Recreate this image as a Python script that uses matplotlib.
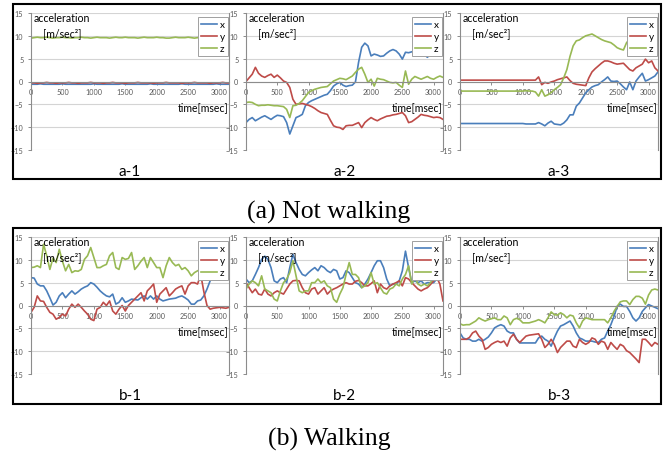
import numpy as np
import matplotlib.pyplot as plt
from matplotlib.patches import Rectangle

plt.rcParams['font.family'] = ['Lato', 'DejaVu Sans']

# time axis [msec], one sample every 50 msec
t = np.arange(0, 3151, 50)

# ---- (a) Not walking ----
a1_x = [-0.6, -0.6, -0.6, -0.5, -0.6, -0.6, -0.6, -0.6,
        -0.6, -0.6, -0.5, -0.6, -0.6, -0.6, -0.6, -0.6,
        -0.6, -0.6, -0.6, -0.6, -0.5, -0.6, -0.6, -0.6,
        -0.6, -0.6, -0.6, -0.6, -0.6, -0.5, -0.6, -0.6,
        -0.6, -0.6, -0.6, -0.6, -0.6, -0.6, -0.5, -0.6,
        -0.6, -0.6, -0.6, -0.6, -0.6, -0.6, -0.6, -0.6,
        -0.5, -0.6, -0.6, -0.6, -0.6, -0.6, -0.6, -0.6,
        -0.6, -0.6, -0.6, -0.5, -0.6, -0.6, -0.6, -0.6]
a1_y = [-0.3, -0.3, -0.4, -0.3, -0.3, -0.2, -0.3, -0.3,
        -0.4, -0.3, -0.3, -0.3, -0.2, -0.3, -0.3, -0.4,
        -0.3, -0.3, -0.3, -0.2, -0.3, -0.3, -0.3, -0.4,
        -0.3, -0.3, -0.2, -0.3, -0.3, -0.3, -0.4, -0.3,
        -0.3, -0.3, -0.2, -0.3, -0.3, -0.3, -0.3, -0.4,
        -0.3, -0.3, -0.3, -0.2, -0.3, -0.3, -0.3, -0.3,
        -0.4, -0.3, -0.3, -0.3, -0.2, -0.3, -0.3, -0.3,
        -0.3, -0.4, -0.3, -0.3, -0.3, -0.2, -0.3, -0.3]
a1_z = [9.5, 9.6, 9.7, 9.6, 9.6, 9.7, 9.6, 9.5,
        9.6, 9.6, 9.7, 9.6, 9.6, 9.5, 9.6, 9.6,
        9.7, 9.6, 9.6, 9.5, 9.6, 9.7, 9.6, 9.6,
        9.6, 9.5, 9.6, 9.7, 9.6, 9.6, 9.7, 9.6,
        9.6, 9.6, 9.5, 9.6, 9.7, 9.6, 9.6, 9.6,
        9.7, 9.6, 9.6, 9.5, 9.5, 9.6, 9.7, 9.6,
        9.6, 9.6, 9.7, 9.6, 9.5, 9.6, 9.6, 9.7,
        9.6, 9.6, 9.5, 9.6, 9.6, 9.7, 9.6, 9.6]

a2_x = [-9.0, -8.3, -7.9, -8.6, -8.2, -7.8, -7.5, -7.9,
        -8.3, -7.8, -7.4, -7.5, -7.7, -9.0, -11.5, -9.7,
        -7.9, -7.6, -7.2, -5.3, -4.6, -4.2, -3.9, -3.6,
        -3.3, -3.0, -2.8, -2.0, -1.0, -0.5, -0.2, -0.8,
        -1.1, -0.9, -0.8, -0.1, 4.2, 7.5, 8.4, 7.8,
        5.6, 6.0, 5.8, 5.5, 5.6, 6.2, 6.7, 7.0,
        6.7, 6.0, 4.9, 6.4, 6.3, 6.5, 6.7, 6.5,
        6.4, 6.0, 5.3, 6.0, 6.4, 6.0, 5.6, 5.8]
a2_y = [0.0, 0.8, 1.6, 3.1, 1.8, 1.2, 0.9, 1.3,
        1.6, 0.9, 1.4, 0.8, 0.1, -0.2, -1.3, -3.9,
        -5.0, -4.9, -4.8, -5.0, -5.2, -5.5, -5.9, -6.4,
        -6.8, -7.0, -7.2, -8.5, -9.7, -10.0, -10.1, -10.5,
        -9.7, -9.6, -9.6, -9.3, -9.0, -10.1, -9.0, -8.4,
        -7.9, -8.3, -8.6, -8.2, -7.9, -7.6, -7.5, -7.3,
        -7.2, -7.0, -6.8, -7.5, -9.0, -8.8, -8.3, -7.8,
        -7.2, -7.4, -7.5, -7.7, -7.9, -7.8, -7.9, -8.3]
a2_z = [-4.6, -4.5, -4.6, -5.0, -5.3, -5.2, -5.2, -5.1,
        -5.2, -5.3, -5.3, -5.4, -5.5, -6.1, -7.9, -5.3,
        -5.2, -4.8, -4.2, -3.3, -2.4, -2.0, -1.7, -1.5,
        -1.3, -1.2, -1.1, -0.5, 0.1, 0.4, 0.7, 0.6,
        0.4, 0.8, 1.2, 2.0, 2.7, 3.1, 1.6, -0.2,
        0.5, -1.0, 0.7, 0.5, 0.4, 0.1, -0.2, -0.3,
        -0.2, -0.8, -1.3, 2.3, -0.6, 0.5, 1.1, 0.8,
        0.5, 0.8, 1.1, 0.7, 0.5, 0.9, 1.2, 0.9]

a3_x = [-9.2, -9.2, -9.2, -9.2, -9.2, -9.2, -9.2, -9.2,
        -9.2, -9.2, -9.2, -9.2, -9.2, -9.2, -9.2, -9.2,
        -9.2, -9.2, -9.2, -9.2, -9.2, -9.3, -9.3, -9.3,
        -9.3, -9.0, -9.3, -9.7, -9.1, -8.7, -9.3, -9.4,
        -9.5, -9.1, -8.4, -7.3, -7.3, -5.4, -4.7, -3.6,
        -2.5, -1.8, -1.2, -0.9, -0.7, -0.1, 0.4, 1.0,
        0.1, 0.0, 0.1, -0.5, -1.2, -1.8, -0.1, -1.8,
        0.1, 1.0, 1.8, 0.1, 0.4, 0.8, 1.2, 2.1]
a3_y = [0.3, 0.3, 0.3, 0.3, 0.3, 0.3, 0.3, 0.3,
        0.3, 0.3, 0.3, 0.3, 0.3, 0.3, 0.3, 0.3,
        0.3, 0.3, 0.3, 0.3, 0.3, 0.3, 0.3, 0.3,
        0.3, 1.0, -0.7, -0.2, -0.4, -0.1, 0.1, 0.4,
        0.6, 0.8, 1.0, 0.2, -0.4, -0.6, -0.7, -0.8,
        -0.9, 0.8, 2.1, 2.8, 3.4, 4.0, 4.5, 4.5,
        4.3, 4.0, 3.8, 3.9, 4.0, 3.3, 2.6, 2.3,
        3.0, 3.4, 3.8, 4.9, 4.1, 4.5, 3.0, 2.3]
a3_z = [-2.1, -2.1, -2.1, -2.1, -2.1, -2.1, -2.1, -2.1,
        -2.1, -2.1, -2.1, -2.1, -2.1, -2.1, -2.1, -2.1,
        -2.1, -2.1, -2.1, -2.1, -2.1, -2.0, -2.1, -2.1,
        -2.3, -3.2, -1.8, -3.2, -2.9, -2.4, -1.8, -1.3,
        -0.7, 0.8, 2.6, 5.5, 7.8, 8.9, 9.1, 9.6,
        10.0, 10.2, 10.4, 10.0, 9.6, 9.2, 8.9, 8.7,
        8.5, 8.0, 7.4, 7.1, 6.9, 8.5, 9.3, 9.7,
        10.0, 9.8, 9.4, 8.8, 8.2, 8.0, 8.0, 9.3]

# ---- (b) Walking ----
b1_x = [6.1, 6.0, 4.7, 4.3, 4.3, 3.2, 1.7, 0.1,
        0.7, 2.1, 2.8, 1.7, 2.5, 3.2, 2.5, 3.0,
        3.6, 4.0, 4.3, 5.0, 4.7, 4.0, 3.2, 2.6,
        2.1, 1.9, 2.5, 0.3, 0.7, 1.7, 0.7, 1.0,
        1.4, 1.3, 1.2, 1.7, 2.1, 1.4, 2.1, 1.4,
        2.1, 1.4, 1.0, 1.2, 1.4, 1.5, 1.6, 1.9,
        2.1, 1.7, 1.2, 0.3, 0.3, 1.0, 1.2, 2.1,
        3.6, 5.4, 6.8, 7.3, 7.6, 7.2, 6.8, 6.5]
b1_y = [-1.5, -0.4, 2.1, 1.0, 0.9, -0.4, -1.5, -1.9,
        -3.0, -2.6, -1.9, -2.3, -0.8, 0.3, -0.4, 0.3,
        -0.4, -1.2, -1.9, -3.0, -3.3, -0.8, -0.4, 0.7,
        0.0, 1.0, -1.2, -1.9, -0.8, 0.0, -1.2, 0.0,
        0.7, 1.4, 2.1, 2.8, 1.0, 3.2, 3.9, 4.7,
        0.7, 2.5, 3.2, 3.9, 2.1, 2.8, 3.6, 4.0,
        4.3, 2.5, 4.3, 5.0, 5.0, 4.7, 6.8, 3.0,
        0.0, -0.8, -0.6, -0.5, -0.4, -0.5, -0.6, -0.4]
b1_z = [8.3, 8.4, 8.7, 8.3, 13.4, 10.9, 7.9, 10.4,
        9.4, 12.3, 9.7, 7.6, 9.0, 7.2, 7.6, 7.5,
        7.9, 10.1, 10.9, 12.7, 10.5, 8.3, 8.3, 8.7,
        9.0, 10.9, 11.6, 8.3, 7.9, 10.5, 10.1, 10.3,
        11.6, 7.9, 8.7, 9.7, 10.5, 8.3, 10.5, 9.4,
        8.3, 8.3, 6.1, 8.7, 10.5, 9.4, 8.7, 9.0,
        7.9, 8.3, 7.6, 6.5, 7.2, 7.6, 7.9, 8.0,
        8.3, 9.0, 9.7, 10.5, 11.9, 11.0, 10.5, 10.1]

b2_x = [5.8, 5.0, 5.4, 6.8, 8.3, 10.1, 10.8, 10.1,
        8.3, 5.4, 5.0, 5.8, 6.1, 5.0, 8.3, 11.2,
        9.4, 7.9, 6.8, 6.5, 7.2, 7.8, 8.3, 7.6,
        8.7, 8.3, 7.6, 7.2, 7.9, 7.6, 5.8, 6.1,
        7.6, 7.2, 6.1, 5.0, 4.7, 3.9, 4.7, 5.8,
        7.2, 8.7, 9.8, 9.8, 8.3, 5.8, 4.3, 4.7,
        4.7, 5.4, 7.6, 11.9, 8.3, 5.0, 5.4, 5.0,
        5.4, 4.7, 5.0, 5.0, 5.0, 5.8, 7.9, 9.4]
b2_y = [5.0, 3.9, 2.8, 3.6, 2.5, 2.3, 3.6, 2.5,
        2.1, 2.8, 3.2, 2.8, 2.5, 3.6, 4.7, 5.4,
        5.5, 5.4, 3.9, 2.8, 2.5, 3.6, 3.9, 2.5,
        3.2, 3.9, 2.5, 3.2, 3.6, 3.9, 4.3, 4.7,
        5.0, 4.7, 4.7, 5.3, 5.5, 5.0, 4.3, 4.3,
        4.8, 5.4, 2.8, 4.7, 3.9, 3.6, 4.3, 4.7,
        5.0, 5.4, 4.3, 6.1, 5.8, 5.0, 4.3, 3.6,
        3.2, 3.6, 3.9, 4.6, 5.4, 6.1, 4.7, 1.0]
b2_z = [3.6, 4.7, 5.4, 5.0, 4.3, 6.5, 3.6, 3.2,
        2.8, 1.4, 1.0, 3.2, 5.0, 5.8, 7.2, 9.8,
        6.5, 3.2, 2.8, 3.2, 3.2, 5.0, 5.0, 5.8,
        5.0, 5.4, 4.3, 3.9, 1.4, 0.7, 2.5, 3.9,
        6.8, 9.4, 6.8, 6.8, 6.1, 3.9, 4.3, 5.0,
        7.2, 4.7, 5.0, 3.9, 2.8, 2.5, 3.6, 3.9,
        4.7, 4.3, 5.8, 6.8, 8.7, 4.7, 6.1, 4.7,
        4.3, 4.7, 4.3, 5.0, 6.1, 6.8, 9.8, 8.3]

b3_x = [-6.0, -7.1, -7.4, -7.4, -7.8, -7.8, -7.4, -7.8,
        -7.4, -6.9, -6.0, -4.9, -4.5, -4.2, -4.5, -5.6,
        -6.0, -6.0, -7.4, -8.2, -8.2, -8.2, -8.2, -8.2,
        -8.2, -7.1, -6.7, -7.4, -7.8, -8.9, -7.1, -5.6,
        -4.5, -4.2, -3.8, -3.4, -4.5, -6.0, -7.1, -7.4,
        -7.8, -7.8, -7.8, -8.0, -8.1, -7.4, -7.1, -5.6,
        -4.2, -2.4, -0.2, 0.3, -0.2, -0.2, -1.3, -2.7,
        -3.4, -2.7, -1.3, -0.5, 0.2, -0.1, -0.4, -0.7]
b3_y = [-7.4, -7.4, -7.4, -7.0, -6.0, -5.6, -6.7, -7.4,
        -9.6, -9.2, -8.5, -8.1, -7.8, -8.1, -7.8, -8.9,
        -7.1, -6.3, -7.4, -8.1, -7.4, -6.7, -6.5, -6.4,
        -6.3, -6.2, -7.4, -9.2, -8.5, -7.4, -8.5, -10.3,
        -9.2, -8.5, -7.8, -7.8, -8.9, -9.2, -7.4, -8.1,
        -8.5, -8.1, -7.1, -7.4, -8.5, -7.8, -8.1, -9.6,
        -8.1, -8.9, -9.6, -8.5, -8.9, -9.9, -10.3, -11.0,
        -11.7, -12.5, -7.4, -7.4, -8.1, -8.9, -8.1, -8.5]
b3_z = [-4.0, -4.3, -4.2, -4.2, -3.8, -3.4, -2.7, -3.1,
        -3.4, -3.1, -2.9, -2.7, -3.1, -3.1, -2.3, -2.7,
        -4.2, -3.1, -2.8, -3.1, -3.8, -3.8, -3.8, -3.6,
        -3.4, -3.1, -3.4, -3.8, -2.7, -1.4, -2.0, -2.1,
        -1.6, -2.0, -2.7, -2.1, -2.3, -3.8, -4.9, -3.4,
        -2.7, -2.9, -3.1, -3.1, -3.1, -3.1, -3.1, -3.8,
        -2.7, -1.3, -0.2, 0.8, 1.0, 1.0, 0.2, 1.3,
        2.0, 2.0, 1.6, 0.3, 2.3, 3.4, 3.6, 3.4]

panel_names = ['a-1', 'a-2', 'a-3', 'b-1', 'b-2', 'b-3']
panel_data = [(a1_x, a1_y, a1_z), (a2_x, a2_y, a2_z), (a3_x, a3_y, a3_z),
              (b1_x, b1_y, b1_z), (b2_x, b2_y, b2_z), (b3_x, b3_y, b3_z)]
captions = ['(a) Not walking', '(b) Walking']

# Excel 2007 default line colours
colors = ['#4A7EBB', '#BE4B48', '#98B954']
axis_gray = '#8c8c8c'
grid_gray = '#d4d4d4'

W, H = 669, 452
fig = plt.figure(figsize=(W / 100, H / 100), dpi=100)


def px_rect(x0, y0, x1, y1):
    # pixel box (top-left origin) -> figure fraction [left, bottom, w, h]
    return [x0 / W, 1 - y1 / H, (x1 - x0) / W, (y1 - y0) / H]


col_px = [(31, 229), (246, 443), (460, 658)]
row_px = [(14, 151), (238, 375)]

for idx, name in enumerate(panel_names):
    r, c = divmod(idx, 3)
    x0, x1 = col_px[c]
    y0, y1 = row_px[r]
    ax = fig.add_axes(px_rect(x0, y0, x1, y1))
    xs, ys, zs = panel_data[idx]
    ax.plot(t, xs, color=colors[0], lw=1.2, label='x')
    ax.plot(t, ys, color=colors[1], lw=1.2, label='y')
    ax.plot(t, zs, color=colors[2], lw=1.2, label='z')

    ax.set_xlim(0, 3150)
    ax.set_ylim(-15, 15)
    ax.set_xticks(range(0, 3001, 500))
    ax.set_yticks(range(-15, 16, 5))
    ax.set_axisbelow(True)
    ax.yaxis.grid(True, color=grid_gray, lw=0.8)

    ax.spines['top'].set_visible(False)
    ax.spines['bottom'].set_position(('data', 0))
    for s in ['left', 'right', 'bottom']:
        ax.spines[s].set_color(axis_gray)
        ax.spines[s].set_linewidth(0.8)
    ax.tick_params(axis='both', colors=axis_gray, labelcolor='#595959',
                   labelsize=5.2, length=2.5, width=0.7, pad=2)
    ax.tick_params(axis='y', pad=3)

    ax.text(0.015, 0.965, 'acceleration', transform=ax.transAxes,
            fontsize=7.6, va='center', ha='left')
    ax.text(0.06, 0.86, '[m/sec²]', transform=ax.transAxes,
            fontsize=7.6, va='center', ha='left')
    ax.text(0.995, -5.6, 'time[msec]', transform=ax.get_yaxis_transform(),
            fontsize=7.6, va='center', ha='right')

    leg = ax.legend(loc='upper right', bbox_to_anchor=(0.995, 0.97),
                    borderaxespad=0, fontsize=7.2, handlelength=1.6,
                    handletextpad=0.3, labelspacing=0.3, borderpad=0.3,
                    fancybox=False, framealpha=1, markerfirst=True)
    leg.get_frame().set_edgecolor('#a0a0a0')
    leg.get_frame().set_linewidth(0.7)

    # panel label under each chart
    fig.text((x0 + x1) / 2 / W, 1 - (y1 + 21) / H, name,
             fontsize=11, ha='center', va='center')

# black frames around each row and captions below them
frames = [(13, 5, 661, 180), (13, 229, 661, 405)]
caption_y = [212, 439]
for (fx0, fy0, fx1, fy1), cap, cy in zip(frames, captions, caption_y):
    l, b, w, h = px_rect(fx0, fy0, fx1, fy1)
    fig.add_artist(Rectangle((l, b), w, h, transform=fig.transFigure,
                             fill=False, edgecolor='black', lw=1.5))
    fig.text(329 / W, 1 - cy / H, cap, fontsize=18.5, ha='center', va='center',
             family='Liberation Serif')

fig.savefig('out.png', dpi=100)
